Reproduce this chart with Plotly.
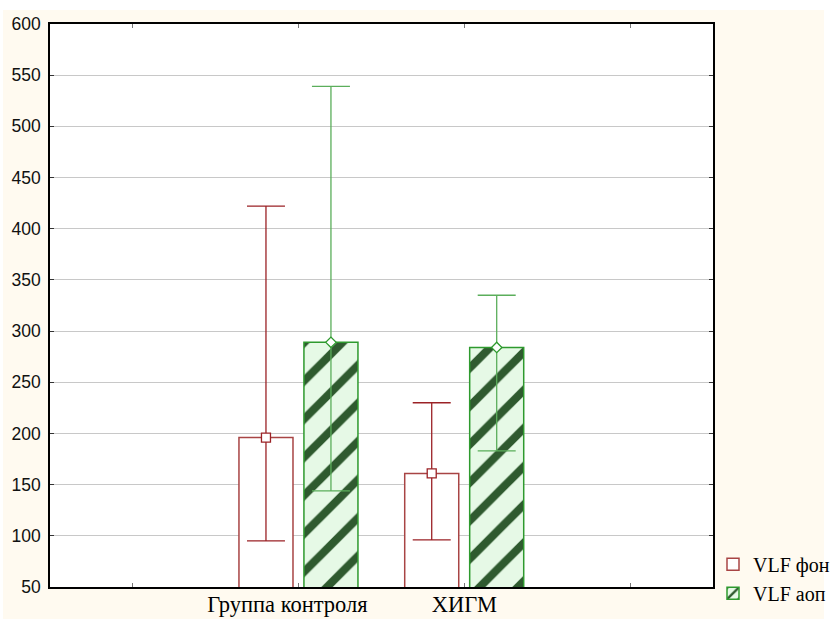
import plotly.graph_objects as go

# ---- data ----
slot_labels = ["", "Группа контроля\u00a0\u00a0\u00a0\u00a0", "ХИГМ", ""]
categories = ["Группа контроля\u00a0\u00a0\u00a0\u00a0", "ХИГМ"]
vlf_fon_mean = [196, 161]
vlf_fon_upper = [422, 230]
vlf_fon_lower = [95, 96]
vlf_aop_mean = [289, 284]
vlf_aop_upper = [539, 335]
vlf_aop_lower = [144, 183]
y_ticks = [50, 100, 150, 200, 250, 300, 350, 400, 450, 500, 550, 600]

# ---- style ----
RED = "#9B2226"
RED_LIGHT = "#A84444"
GREEN = "#2E9A2E"
GREEN_ERR = "#5BAE5B"
BAR_W = 0.326
OFF_FON = -0.36
OFF_AOP = 0.032

xpos = [slot_labels.index(c) + 0.5 for c in categories]
slot_pos = [i + 0.5 for i in range(len(slot_labels))]

fig = go.Figure()

fig.add_trace(go.Bar(
    x=xpos, y=vlf_fon_mean, width=BAR_W, offset=OFF_FON,
    name="VLF фон",
    marker=dict(color="white", line=dict(color=RED_LIGHT, width=1.5)),
    showlegend=True,
))
fig.add_trace(go.Bar(
    x=xpos, y=vlf_aop_mean, width=BAR_W, offset=OFF_AOP,
    name="VLF аоп",
    marker=dict(color="#E6F9E6", line=dict(color=GREEN, width=1.5),
                pattern=dict(shape="/", fgcolor="#2F5A2F", bgcolor="#E6F9E6",
                             fgopacity=1, size=27, solidity=0.3)),
    showlegend=True,
))

fig.add_trace(go.Scatter(
    x=[p + OFF_FON + BAR_W / 2 for p in xpos], y=vlf_fon_mean, mode="markers",
    marker=dict(symbol="square", size=9, color="white", line=dict(color=RED, width=1.3)),
    error_y=dict(type="data", symmetric=False,
                 array=[u - m for u, m in zip(vlf_fon_upper, vlf_fon_mean)],
                 arrayminus=[m - l for m, l in zip(vlf_fon_mean, vlf_fon_lower)],
                 color=RED, thickness=1.3, width=19),
    showlegend=False, hoverinfo="skip",
))
fig.add_trace(go.Scatter(
    x=[p + OFF_AOP + BAR_W / 2 for p in xpos], y=vlf_aop_mean, mode="markers",
    marker=dict(symbol="diamond", size=8, color="white", line=dict(color=GREEN, width=1.3)),
    error_y=dict(type="data", symmetric=False,
                 array=[u - m for u, m in zip(vlf_aop_upper, vlf_aop_mean)],
                 arrayminus=[m - l for m, l in zip(vlf_aop_mean, vlf_aop_lower)],
                 color=GREEN_ERR, thickness=1.3, width=19),
    showlegend=False, hoverinfo="skip",
))

fig.update_layout(
    width=833, height=619,
    margin=dict(l=50, r=120, t=24, b=32, autoexpand=False),
    paper_bgcolor="#FFFAF0",
    plot_bgcolor="white",
    barmode="overlay",
    legend=dict(x=1.0, y=0.075, xanchor="left", yanchor="top",
                bgcolor="rgba(0,0,0,0)", borderwidth=0,
                font=dict(family="Liberation Serif, Times New Roman, serif", size=20, color="black"),
                tracegroupgap=0, itemwidth=30),
    shapes=[
        dict(type="rect", xref="paper", yref="paper", x0=-0.1, x1=1.3, y0=1.0249, y1=1.1,
             fillcolor="white", line=dict(width=0), layer="below"),
        dict(type="rect", xref="paper", yref="paper", x0=1.1674, x1=1.3, y0=-0.1, y1=1.1,
             fillcolor="white", line=dict(width=0), layer="below"),
        dict(type="rect", xref="paper", yref="paper", x0=-0.1, x1=-0.0709, y0=-0.1, y1=1.1,
             fillcolor="white", line=dict(width=0), layer="below"),
    ],
)

fig.update_xaxes(
    range=[0, len(slot_labels)], tickmode="array", tickvals=slot_pos, ticktext=slot_labels,
    ticks="inside", ticklen=4, tickcolor="#777777", mirror="ticks",
    showline=True, linecolor="black", linewidth=1.5, showgrid=False, zeroline=False,
    ticklabelstandoff=-4,
    tickfont=dict(family="Liberation Serif, Times New Roman, serif", size=22.5, color="black"),
)
fig.update_yaxes(
    range=[50, 600], tickmode="array", tickvals=y_ticks,
    ticks="inside", ticklen=4, tickcolor="#333333", mirror="ticks",
    showline=True, linecolor="black", linewidth=1.5,
    showgrid=True, gridcolor="#C8C8C8", gridwidth=1, zeroline=False,
    ticklabelstandoff=4,
    tickfont=dict(family="Liberation Sans, Arial, sans-serif", size=17.5, color="#111111"),
)

fig.write_html("out.html", config={"displayModeBar": False},
               post_script="document.body.style.margin='0';document.body.style.overflow='hidden';")
